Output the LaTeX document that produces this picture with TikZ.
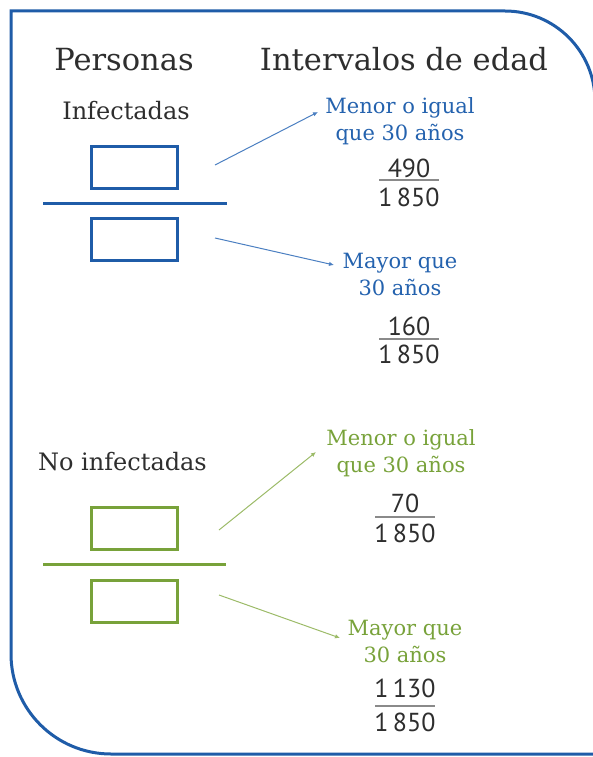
\documentclass[tikz,border=0pt]{standalone}
\usepackage{fontspec}
\setmainfont{DejaVu Serif}
\newfontfamily\numfont{PT Sans}
\usetikzlibrary{arrows.meta,positioning}
\definecolor{frameb}{HTML}{1F5CA8}
\definecolor{txtb}{HTML}{2462AE}
\definecolor{arrb}{HTML}{4B7FC1}
\definecolor{noinfg}{HTML}{78A23A}
\definecolor{arrg}{HTML}{9CBB68}
\definecolor{inkc}{HTML}{2E2E2E}
\definecolor{barc}{HTML}{8A8A8A}

\begin{document}
\begin{tikzpicture}[x=1pt, y=-1pt, every node/.style={inner sep=0pt, text=inkc},
      hd/.style={font=\fontsize{30.5}{36}\selectfont},
      grp/.style={font=\fontsize{24}{29}\selectfont},
      rng/.style={align=center, font=\fontsize{21}{27}\selectfont},
      num/.style={font=\numfont\fontsize{26}{30}\selectfont},
      cell/.style={draw, line width=3pt, minimum width=86pt, minimum height=42pt},
      divline/.style={line width=3pt},
      fbar/.style={draw=barc, line width=1.2pt},
      arr/.style={-{Latex[length=5pt,width=4.5pt]}, line width=1pt}]
    \useasboundingbox (0,0) rectangle (593,757);
    \draw[frameb, line width=3pt] (595,770) -- (595,101)
      arc[start angle=0, end angle=-90, radius=90] -- (11,11) -- (11,654)
      arc[start angle=180, end angle=90, radius=100] -- (620,754);
    % headings
    \node[hd, anchor=base] (pers) at (124,71) {Personas};
    \node[hd, anchor=base] (interv) at (404,71) {Intervalos de edad};
    % infected
    \node[grp, anchor=base] (inf) at (126,120) {Infectadas};
    \node[cell, draw=frameb] (infup) at (134.5,167.5) {};
    \node[cell, draw=frameb] (infdn) at (134.5,239) {};
    \draw[divline, frameb] (43,203) -- (227,203);
    \node[rng, text=txtb, anchor=base] (infle) at (400,140) {Menor o igual\\ que 30 años};
    \node[rng, text=txtb, anchor=base] (infgt) at (400,295) {Mayor que\\ 30 años};
    % not infected
    \node[grp, anchor=base] (noinf) at (122.5,470) {No infectadas};
    \node[cell, draw=noinfg] (noinfup) at (134,528.5) {};
    \node[cell, draw=noinfg] (noinfdn) at (134,601) {};
    \draw[divline, noinfg] (43,564) -- (226,564);
    \node[rng, text=noinfg, anchor=base] (noinfle) at (401,472) {Menor o igual\\ que 30 años};
    \node[rng, text=noinfg, anchor=base] (noinfgt) at (405,662) {Mayor que\\ 30 años};
    % fractions
    \foreach \k/\x/\yn/\yb/\yd/\t in {a/409/177/180/206/490, b/409/335/339/363/160,
                                      c/405/512/517/542/70, d/405/697/706/731/1\,130} {
      \node[num, anchor=base] (num\k) at (\x,\yn) {\t};
      \node[num, anchor=base] (den\k) at (\x,\yd) {1\,850};
      \draw[fbar] (\x-30,\yb) -- (\x+30,\yb);
    }
    % arrows
    \coordinate (s1) at (215,165);  \coordinate (e1) at (318,112);
    \coordinate (s2) at (215,238);  \coordinate (e2) at (334,265);
    \coordinate (s3) at (219,530);  \coordinate (e3) at (316,452);
    \coordinate (s4) at (219,595);  \coordinate (e4) at (340,638);
    \foreach \i/\c in {1/arrb, 2/arrb, 3/arrg, 4/arrg}
      \draw[arr, \c] (s\i) -- (e\i);
  \end{tikzpicture}
\end{document}
